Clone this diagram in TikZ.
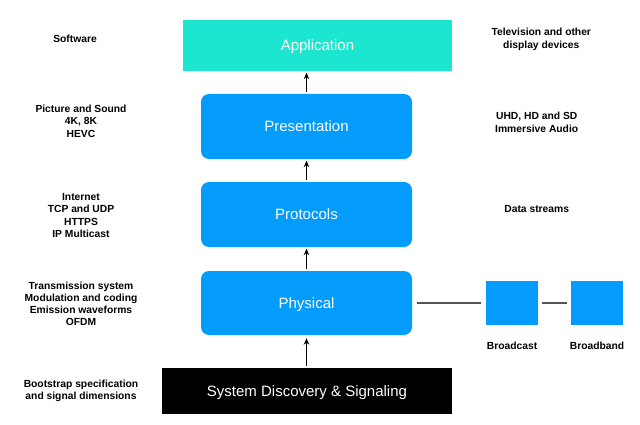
\documentclass[tikz,border=0pt]{standalone}
\usepackage{fontspec}
\setmainfont{Liberation Sans}
\usetikzlibrary{arrows.meta}
\definecolor{appteal}{HTML}{1CE6D0}
\definecolor{layerblue}{HTML}{049CFC}
\definecolor{linkgray}{HTML}{555555}
\begin{document}
\begin{tikzpicture}[x=1pt,y=-1pt,
  boxtext/.style={text=white,font=\fontsize{15}{18}\selectfont,inner sep=0pt,text depth=0pt},
  appbox/.style={boxtext,fill=appteal,rectangle},
  layerbox/.style={boxtext,fill=layerblue,rounded corners=8pt,rectangle},
  basebox/.style={boxtext,fill=black,rectangle},
  netbox/.style={fill=layerblue,rectangle,inner sep=0pt,minimum width=52pt,minimum height=44pt},
  note/.style={align=center,font=\bfseries\fontsize{10.3}{12.2}\selectfont,inner sep=0pt,yshift=-1pt},
  uparrow/.style={-{Stealth[length=6.5pt,width=5.5pt]},line width=1.2pt},
  link/.style={draw=linkgray,line width=1.3pt}]
\useasboundingbox (0,0) rectangle (640,425);
% layers
\node[appbox,minimum width=269pt,minimum height=51pt] (app) at (317.5,45.5) {Application};
\node[layerbox,minimum width=211pt,minimum height=65pt] (pres) at (306.5,126.5) {Presentation};
\node[layerbox,minimum width=211pt,minimum height=65pt] (prot) at (306.5,214.5) {Protocols};
\node[layerbox,minimum width=211pt,minimum height=64pt] (phys) at (306.5,303) {Physical};
\node[basebox,minimum width=290pt,minimum height=46pt] (sys) at (307,391) {System Discovery \& Signaling};
% network boxes
\node[netbox] (bcast) at (512,303) {};
\node[netbox] (bband) at (597,303) {};
% arrows
\draw[uparrow,shorten <=1.5pt,shorten >=1.5pt] (pres.north) -- (pres.north |- app.south);
\draw[uparrow,shorten <=1.5pt,shorten >=1.5pt] (prot.north) -- (pres.south);
\draw[uparrow,shorten <=1.5pt,shorten >=1.5pt] (phys.north) -- (prot.south);
\draw[uparrow,shorten <=2pt,shorten >=3pt] (phys.south |- sys.north) -- (phys.south);
% links
\draw[link,shorten <=4.5pt,shorten >=4.5pt] (phys.east) -- (bcast.west);
\draw[link,shorten <=4pt,shorten >=4pt] (bcast.east) -- (bband.west);
% left notes
\node[note] (nsoft) at (75,38.3) {Software};
\node[note] (npic) at (81,120.3) {Picture and Sound\\4K, 8K\\HEVC};
\node[note] (nnet) at (81,214.5) {Internet\\TCP and UDP\\HTTPS\\IP Multicast};
\node[note] (ntx) at (81,303) {Transmission system\\Modulation and coding\\Emission waveforms\\OFDM};
\node[note] (nboot) at (81,389.7) {Bootstrap specification\\and signal dimensions};
% right notes
\node[note] (ntv) at (541.3,38.3) {Television and other\\display devices};
\node[note] (nuhd) at (536.7,121.3) {UHD, HD and SD\\Immersive Audio};
\node[note] (ndata) at (536.7,208.3) {Data streams};
\node[note] (nbc) at (512,345.3) {Broadcast};
\node[note] (nbb) at (597,345.3) {Broadband};
\end{tikzpicture}
\end{document}
